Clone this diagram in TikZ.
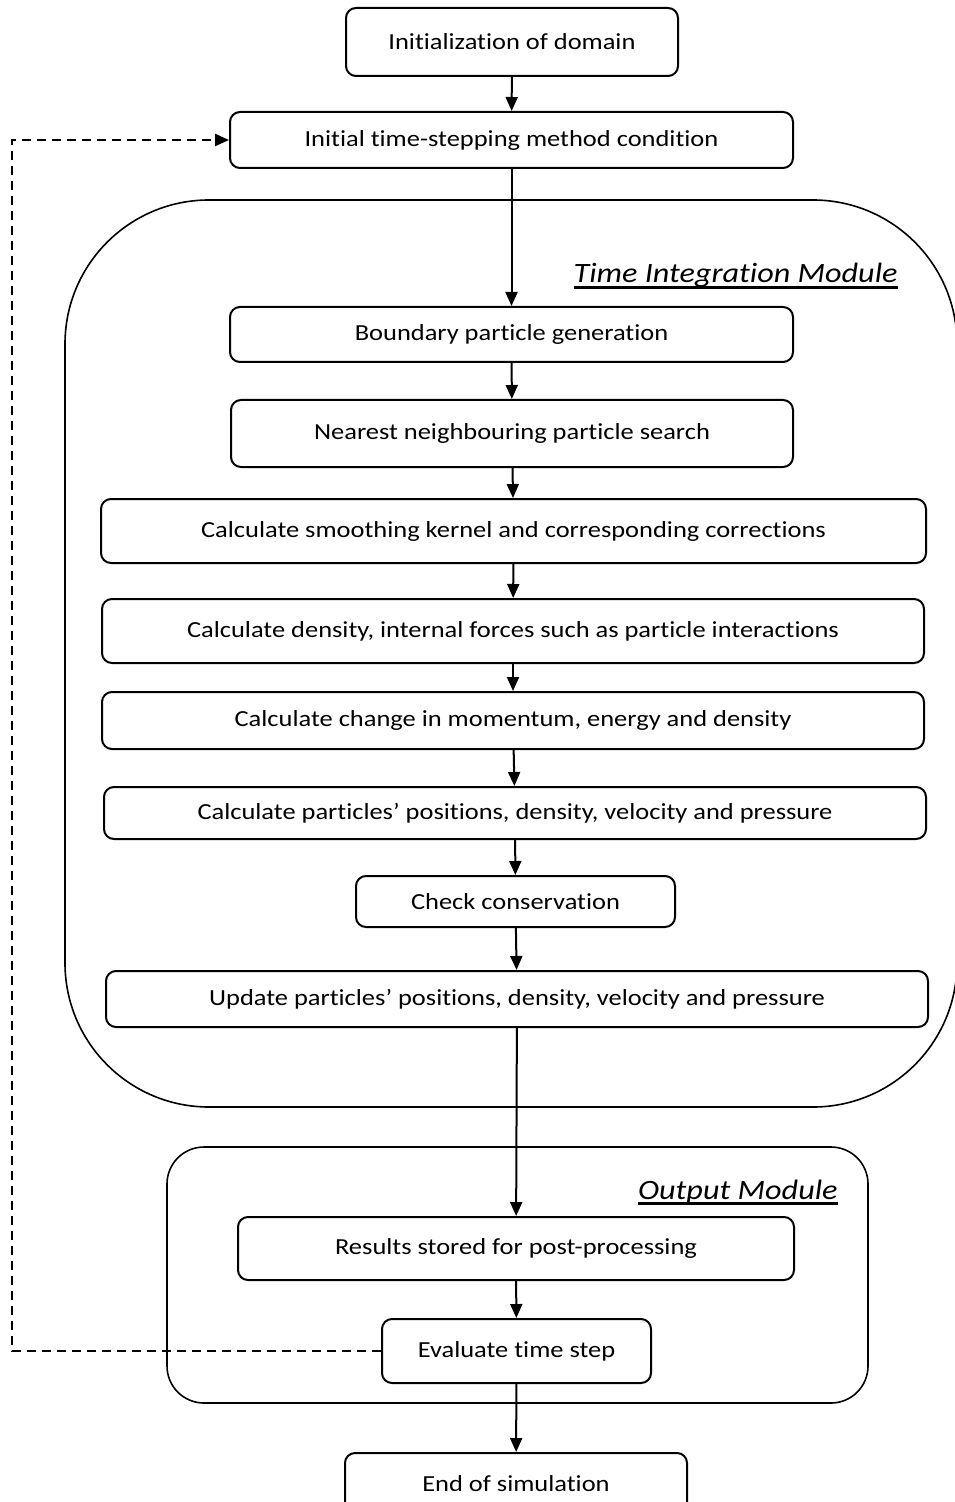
\documentclass[tikz,border=0pt]{standalone}
\usepackage{fontspec}
\setmainfont{Carlito}[FakeStretch=1.15, Ligatures=NoCommon]
\usepackage{tikz}
\usetikzlibrary{arrows.meta,positioning}
\newcommand{\thickul}[1]{\setbox0\hbox{#1}\rlap{\rule[-2.8pt]{\wd0}{1.1pt}}\box0}

\begin{document}
\begin{tikzpicture}[x=0.5pt, y=-0.5pt,
  every node/.style={font=\fontsize{11.5}{14}\selectfont},
  stepbox/.style={draw, line width=1pt, rounded corners=5pt, inner sep=0pt, align=center},
  module/.style={draw, line width=0.8pt, inner sep=0pt},
  modlabel/.style={font=\fontsize{14}{17}\selectfont\itshape, anchor=base east, inner sep=0pt},
  flow/.style={line width=1pt, -{Triangle[length=7pt,width=6pt]}},
  loopback/.style={line width=1.1pt, dash pattern=on 4.5pt off 3pt, -{Triangle[length=7pt,width=6pt]}}]
  \useasboundingbox (0,0) rectangle (954,1502);

  % modules
  \node[module, rounded corners=72pt, minimum width=446pt, minimum height=453.5pt] (timod) at (511,653.5) {};
  \node[module, rounded corners=18.5pt, minimum width=350.5pt, minimum height=128pt] (outmod) at (517.5,1275) {};
  \node[modlabel] (tilabel) at (898,283) {\thickul{Time Integration Module}};
  \node[modlabel] (outlabel) at (838,1199) {\thickul{Output Module}};

  % steps
  \node[stepbox, minimum width=166pt, minimum height=34pt] (init) at (512,42) {Initialization of domain};
  \node[stepbox, minimum width=281.5pt, minimum height=28pt] (tstep) at (511.5,140) {Initial time-stepping method condition};
  \node[stepbox, minimum width=281.5pt, minimum height=27.5pt] (bound) at (511.5,334.5) {Boundary particle generation};
  \node[stepbox, minimum width=281pt, minimum height=33.5pt] (nnps) at (512,433.5) {Nearest neighbouring particle search};
  \node[stepbox, minimum width=412.5pt, minimum height=32pt] (kernel) at (513.5,531) {Calculate smoothing kernel and corresponding corrections};
  \node[stepbox, minimum width=411pt, minimum height=32pt] (dens) at (513,631) {Calculate density, internal forces such as particle interactions};
  \node[stepbox, minimum width=411pt, minimum height=28.5pt] (change) at (513,720.5) {Calculate change in momentum, energy and density};
  \node[stepbox, minimum width=411pt, minimum height=26pt] (calcpos) at (515,813) {Calculate particles’ positions, density, velocity and pressure};
  \node[stepbox, minimum width=159.5pt, minimum height=25.5pt] (check) at (515.5,901.5) {Check conservation};
  \node[stepbox, minimum width=411pt, minimum height=28pt] (update) at (517,999) {Update particles’ positions, density, velocity and pressure};
  \node[stepbox, minimum width=278pt, minimum height=31.5pt] (results) at (516,1248.5) {Results stored for post-processing};
  \node[stepbox, minimum width=134.5pt, minimum height=32pt] (evalts) at (516.5,1351) {Evaluate time step};
  \node[stepbox, minimum width=171pt, minimum height=31pt] (endsim) at (516,1484) {End of simulation};

  % connectors
  \draw[flow] (init) -- (tstep);
  \draw[flow] (tstep) -- (bound);
  \draw[flow] (bound) -- (nnps);
  \draw[flow] (nnps) -- (kernel);
  \draw[flow] (kernel) -- (dens);
  \draw[flow] (dens) -- (change);
  \draw[flow] (change) -- (calcpos);
  \draw[flow] (calcpos) -- (check);
  \draw[flow] (check) -- (update);
  \draw[flow] (update) -- (results);
  \draw[flow] (results) -- (evalts);
  \draw[flow] (evalts) -- (endsim);
  \coordinate (ret) at (12,1351);
  \draw[loopback] (evalts.west) -- (ret) |- (tstep.west);
\end{tikzpicture}
\end{document}
